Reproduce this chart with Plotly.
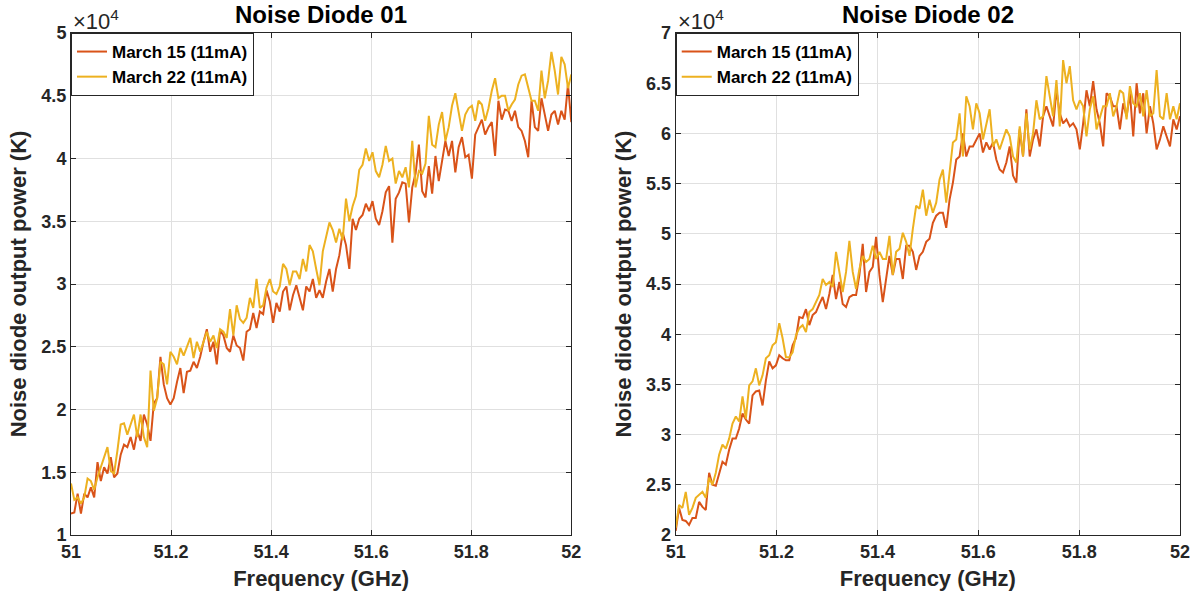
import numpy as np
import plotly.graph_objects as go

# Values in units of 10^4 K, sampled uniformly from 51 to 52 GHz
nd1_mar15 = [
    1.17, 1.18, 1.33, 1.17, 1.33, 1.30, 1.38, 1.30, 1.58, 1.43, 1.54, 1.49, 1.62, 1.46, 1.49, 1.64, 1.72,
    1.70, 1.78, 1.68, 1.83, 1.75, 1.96, 1.88, 1.75, 2.05, 2.09, 2.42, 2.20, 2.09, 2.04, 2.09, 2.22, 2.33,
    2.13, 2.30, 2.31, 2.38, 2.33, 2.42, 2.54, 2.64, 2.46, 2.54, 2.36, 2.63, 2.59, 2.49, 2.46, 2.59, 2.51,
    2.49, 2.39, 2.62, 2.64, 2.77, 2.65, 2.78, 2.76, 2.95, 2.86, 2.69, 2.85, 2.78, 2.94, 2.98, 2.79, 2.91,
    2.99, 2.90, 2.79, 2.98, 2.94, 3.04, 2.89, 2.95, 2.89, 3.02, 3.12, 2.94, 3.12, 3.23, 3.41, 3.31, 3.12,
    3.52, 3.43, 3.52,
    3.55, 3.64, 3.58, 3.66, 3.52, 3.47, 3.58, 3.73, 3.78, 3.33, 3.68, 3.73, 3.81,
    3.80, 3.49, 3.77, 3.88, 4.11, 3.74, 3.69, 3.94, 3.72, 4.02, 3.82, 3.98, 4.14, 4.02, 4.14, 3.89, 4.09,
    4.17, 4.01, 4.03, 3.84, 4.19, 4.25, 4.31, 4.19, 4.25, 4.29, 4.02, 4.46, 4.31, 4.39, 4.38, 4.30, 4.38,
    4.25, 4.22, 4.14, 4.01, 4.46, 4.25, 4.22, 4.48, 4.35, 4.22, 4.35, 4.38, 4.27, 4.38, 4.31, 4.59, 4.29,
]
nd1_mar22 = [
    1.41, 1.28, 1.30, 1.25, 1.30, 1.45, 1.43, 1.36, 1.46, 1.54, 1.62, 1.70, 1.51, 1.49, 1.67, 1.88, 1.89,
    1.80, 1.88, 1.96, 1.78, 1.96, 1.78, 1.70, 2.31, 1.99, 2.09, 2.38, 2.36, 2.20, 2.46, 2.42, 2.36, 2.49,
    2.43, 2.50, 2.57, 2.41, 2.54, 2.46, 2.54, 2.62, 2.54, 2.59, 2.49, 2.64, 2.62, 2.57, 2.80, 2.59, 2.83,
    2.72, 2.69, 2.73, 2.89, 2.81, 3.04, 2.81, 2.83, 2.97, 3.04, 2.94, 2.92, 2.98, 3.16, 3.12, 2.99, 3.10,
    3.10, 3.04, 3.20, 3.10, 3.31, 3.26, 3.12, 2.99, 3.26, 3.39, 3.49, 3.43, 3.33, 3.44, 3.35, 3.68, 3.50,
    3.62, 3.70, 3.91,
    3.95, 4.08, 3.98, 4.05, 3.90, 3.85, 3.95, 4.10, 3.98, 4.00, 3.80, 3.90, 3.85,
    3.93, 3.77, 4.14, 3.77, 3.90, 3.88, 3.96, 4.34, 4.11, 4.09, 4.27, 4.37, 4.14, 4.25, 4.42, 4.52, 4.37,
    4.22, 4.35, 4.40, 4.42, 4.30, 4.46, 4.43, 4.30, 4.40, 4.54, 4.64, 4.48, 4.50, 4.50, 4.38, 4.43, 4.47,
    4.59, 4.66, 4.67, 4.56, 4.46, 4.46, 4.38, 4.70, 4.48, 4.62, 4.85, 4.70, 4.51, 4.81, 4.75, 4.56, 4.67,
]
nd2_mar15 = [
    2.04, 2.27, 2.15, 2.14, 2.10, 2.17, 2.17, 2.33, 2.28, 2.25, 2.62, 2.50, 2.49, 2.60, 2.73, 2.70, 2.85,
    2.96, 2.96, 3.06, 3.21, 3.15, 3.11, 3.39, 3.43, 3.44, 3.29, 3.54, 3.73, 3.66, 3.69, 3.79, 3.76, 3.74,
    3.74, 3.89, 3.96, 4.17, 4.16, 4.25, 4.09, 4.19, 4.22, 4.30, 4.37, 4.25, 4.40, 4.59, 4.35, 4.52, 4.30,
    4.27, 4.37, 4.39, 4.39, 4.59, 4.90, 4.42, 4.62, 4.67, 4.97, 4.59, 4.32, 4.55, 4.78, 4.59, 4.75, 4.75,
    4.55, 4.88, 4.88, 4.82, 4.64, 4.78, 4.82, 4.92, 4.95, 5.11, 5.18, 5.21, 5.21, 5.06, 5.34, 5.51, 5.74,
    5.77, 6.00, 5.77, 5.87, 5.87, 5.94, 6.00, 5.81, 5.91, 5.84, 5.91, 5.74, 5.64, 5.61, 5.71, 5.87, 5.58,
    5.51, 6.04, 5.77, 6.24, 5.77, 5.94, 6.04, 5.87, 6.17, 6.27, 6.17, 6.07, 6.43, 6.20, 6.10, 6.14, 6.07,
    6.10, 6.04, 5.84, 6.10, 6.43, 6.27, 6.52, 6.24, 6.10, 5.87, 6.40, 6.37, 6.27, 6.27, 6.04, 6.30, 6.17,
    6.40, 5.97, 6.50, 6.20, 6.40, 6.00, 6.27, 6.10, 5.84, 5.94, 6.07, 5.97, 5.87, 6.14, 6.04, 6.17,
]
nd2_mar22 = [
    2.07, 2.30, 2.27, 2.43, 2.20, 2.27, 2.37, 2.40, 2.43, 2.37, 2.57, 2.50, 2.62, 2.80, 2.90, 2.86, 2.96,
    3.11, 3.18, 3.13, 3.38, 3.16, 3.49, 3.53, 3.66, 3.49, 3.59, 3.76, 3.79, 3.89, 3.92, 4.11, 3.96, 3.77,
    3.77, 3.82, 3.99, 4.06, 4.09, 4.02, 4.22, 4.25, 4.32, 4.39, 4.55, 4.49, 4.52, 4.47, 4.82, 4.62, 4.42,
    4.62, 4.93, 4.62, 4.45, 4.65, 4.78, 4.72, 4.75, 4.88, 4.75, 4.82, 4.75, 4.75, 4.98, 4.59, 4.82, 4.85,
    5.01, 4.92, 4.78, 5.05, 5.28, 5.25, 5.44, 5.18, 5.34, 5.21, 5.31, 5.54, 5.64, 5.31, 5.58, 5.91, 5.94,
    6.20, 5.77, 6.37, 6.27, 6.04, 6.30, 6.20, 5.94, 6.10, 6.24, 5.87, 5.94, 5.84, 5.94, 6.04, 5.97, 5.77,
    5.71, 6.07, 5.77, 6.20, 5.84, 6.00, 6.33, 6.14, 6.17, 6.57, 6.37, 6.17, 6.53, 6.07, 6.73, 6.50, 6.67,
    6.33, 6.24, 6.33, 6.27, 5.97, 6.24, 6.37, 6.04, 6.17, 6.27, 6.27, 6.40, 6.17, 6.27, 6.43, 6.40, 6.14,
    6.47, 6.30, 6.27, 6.40, 6.17, 6.43, 6.17, 6.20, 6.63, 6.17, 6.14, 6.40, 6.14, 6.27, 6.14, 6.30,
]

series_names = ["March 15 (11mA)", "March 22 (11mA)"]
titles = ["Noise Diode 01", "Noise Diode 02"]
x_ticks = [51, 51.2, 51.4, 51.6, 51.8, 52]
x_tick_text = ["51", "51.2", "51.4", "51.6", "51.8", "52"]
y1_ticks = [1, 1.5, 2, 2.5, 3, 3.5, 4, 4.5, 5]
y1_tick_text = ["1", "1.5", "2", "2.5", "3", "3.5", "4", "4.5", "5"]
y2_ticks = [2, 2.5, 3, 3.5, 4, 4.5, 5, 5.5, 6, 6.5, 7]
y2_tick_text = ["2", "2.5", "3", "3.5", "4", "4.5", "5", "5.5", "6", "6.5", "7"]

c15 = "#D95319"
c22 = "#EDB120"
FONT = "Liberation Sans"
TXT = "#262626"

fig = go.Figure()

def add(vals, name, color, xa, ya, legend):
    f = np.linspace(51, 52, len(vals))
    fig.add_trace(go.Scatter(
        x=f, y=vals, mode="lines", name=name,
        line=dict(color=color, width=2),
        xaxis=xa, yaxis=ya, legend=legend, showlegend=True,
    ))

add(nd1_mar15, series_names[0], c15, "x", "y", "legend")
add(nd1_mar22, series_names[1], c22, "x", "y", "legend")
add(nd2_mar15, series_names[0], c15, "x2", "y2", "legend2")
add(nd2_mar22, series_names[1], c22, "x2", "y2", "legend2")

axis_common = dict(
    showline=True, linecolor=TXT, linewidth=1, mirror="ticks",
    ticks="inside", ticklen=5, tickcolor=TXT,
    showgrid=True, gridcolor="#e0e0e0", gridwidth=1, zeroline=False,
    tickfont=dict(family=FONT, size=18, color=TXT, weight="bold"),
)
title_font = dict(family=FONT, size=22, color=TXT, weight="bold")

d1 = [0, 503 / 1115]
d2 = [608 / 1115, 1]

legend_common = dict(
    y=1, xanchor="left", yanchor="top", xref="paper", yref="paper",
    bgcolor="white", bordercolor=TXT, borderwidth=1,
    font=dict(family=FONT, size=17, color="black", weight="bold"),
    tracegroupgap=0, itemwidth=30,
)

fig.update_layout(
    width=1202, height=599,
    margin=dict(l=71, r=16, t=33, b=61),
    plot_bgcolor="white", paper_bgcolor="white",
    font=dict(family=FONT, color=TXT),
    xaxis=dict(domain=d1, range=[51, 52], tickvals=x_ticks, ticktext=x_tick_text,
               title=dict(text="Frequency (GHz)", font=title_font, standoff=10), **axis_common),
    yaxis=dict(domain=[0, 1], range=[1, 5], tickvals=y1_ticks, ticktext=y1_tick_text, anchor="x",
               title=dict(text="Noise diode output power (K)", font=title_font, standoff=8), **axis_common),
    xaxis2=dict(domain=d2, range=[51, 52], tickvals=x_ticks, ticktext=x_tick_text, anchor="y2",
                title=dict(text="Frequency (GHz)", font=title_font, standoff=10), **axis_common),
    yaxis2=dict(domain=[0, 1], range=[2, 7], tickvals=y2_ticks, ticktext=y2_tick_text, anchor="x2",
                title=dict(text="Noise diode output power (K)", font=title_font, standoff=8), **axis_common),
    legend=dict(x=d1[0], **legend_common),
    legend2=dict(x=d2[0], **legend_common),
    showlegend=True,
)

for dom, t in zip([d1, d2], titles):
    fig.add_annotation(text=t, x=(dom[0] + dom[1]) / 2, y=1, xref="paper", yref="paper",
                       xanchor="center", yanchor="bottom", yshift=3, showarrow=False,
                       font=dict(family=FONT, size=24, color="black", weight="bold"))
    fig.add_annotation(text="\u00d710<sup>4</sup>", x=dom[0], y=1, xref="paper", yref="paper",
                       xanchor="left", yanchor="bottom", yshift=-3, showarrow=False,
                       font=dict(family=FONT, size=22, color=TXT))

fig.write_html("out.html")
